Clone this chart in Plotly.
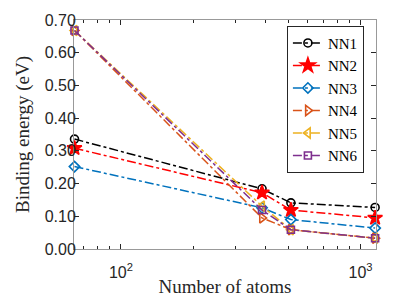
import plotly.graph_objects as go
import numpy as np

atoms = [64, 388, 512, 1150]
nn1 = [0.336, 0.184, 0.141, 0.127]
nn2 = [0.308, 0.172, 0.119, 0.095]
nn3 = [0.252, 0.126, 0.090, 0.064]
nn4 = [0.668, 0.095, 0.059, 0.033]
nn5 = [0.668, 0.131, 0.059, 0.033]
nn6 = [0.668, 0.119, 0.059, 0.033]
names = ["NN1", "NN2", "NN3", "NN4", "NN5", "NN6"]
yticks = [0.0, 0.1, 0.2, 0.3, 0.4, 0.5, 0.6, 0.7]

series = [nn1, nn2, nn3, nn4, nn5, nn6]
colors = ["#000000", "#FF0000", "#0072BD", "#D95319", "#EDB120", "#7E2F8E"]
symbols = ["circle-open", "star", "diamond-open", "triangle-right-open",
           "triangle-left-open", "square-open"]
sizes = [8, 11, 8, 9, 9, 7]

fig = go.Figure()
for nm, ys, c, s, sz in zip(names, series, colors, symbols, sizes):
    fig.add_trace(go.Scatter(
        x=atoms, y=ys, name=nm, mode="lines+markers",
        line=dict(color=c, width=1.5, dash="dashdot"),
        marker=dict(symbol=s, size=sz, color=c, line=dict(color=c, width=1.6)),
        cliponaxis=False,
    ))

minor_vals = [v * 10 ** e for e in (1, 2, 3) for v in range(2, 10)]
minor_vals = [v for v in minor_vals if 64 <= v <= 1160 and v not in (100, 1000)]

# page body has an 8px default margin, so the figure is drawn offset by 8px
fig.update_layout(
    width=391, height=289,
    margin=dict(l=66, r=23, t=12, b=48),
    paper_bgcolor="white", plot_bgcolor="white",
    font=dict(family="Liberation Sans", size=16, color="#262626"),
    showlegend=True,
    legend=dict(
        x=0.705, y=0.975, xanchor="left", yanchor="top",
        bgcolor="white", bordercolor="#262626", borderwidth=1,
        font=dict(family="Liberation Serif, serif", size=15, color="#000000"),
        itemwidth=30, tracegroupgap=0,
    ),
    xaxis=dict(
        type="log", range=[np.log10(63.7), np.log10(1160)],
        tickvals=[100, 1000], ticktext=["10<sup>2</sup>", "10<sup>3</sup>"],
        ticks="inside", ticklen=5, tickcolor="#262626",
        ticklabelstandoff=9,
        showline=True, linecolor="#999999", linewidth=1, mirror="ticks",
        showgrid=False, zeroline=False, automargin=False,
        minor=dict(tickmode="array", tickvals=minor_vals, ticks="inside",
                   ticklen=3, tickcolor="#262626", showgrid=False),
        title=dict(text="Number of atoms", standoff=12,
                   font=dict(family="Liberation Serif, serif", size=19, color="#262626")),
    ),
    yaxis=dict(
        range=[0, 0.7], tickvals=yticks, tickformat=".2f",
        ticks="inside", ticklen=5, tickcolor="#262626",
        ticklabelstandoff=-6,
        showline=True, linecolor="#999999", linewidth=1, mirror="ticks",
        showgrid=False, zeroline=False, automargin=False,
        title=dict(text="Binding energy (eV)", standoff=10,
                   font=dict(family="Liberation Serif, serif", size=19, color="#262626")),
    ),
)

fig.write_html("out.html")
